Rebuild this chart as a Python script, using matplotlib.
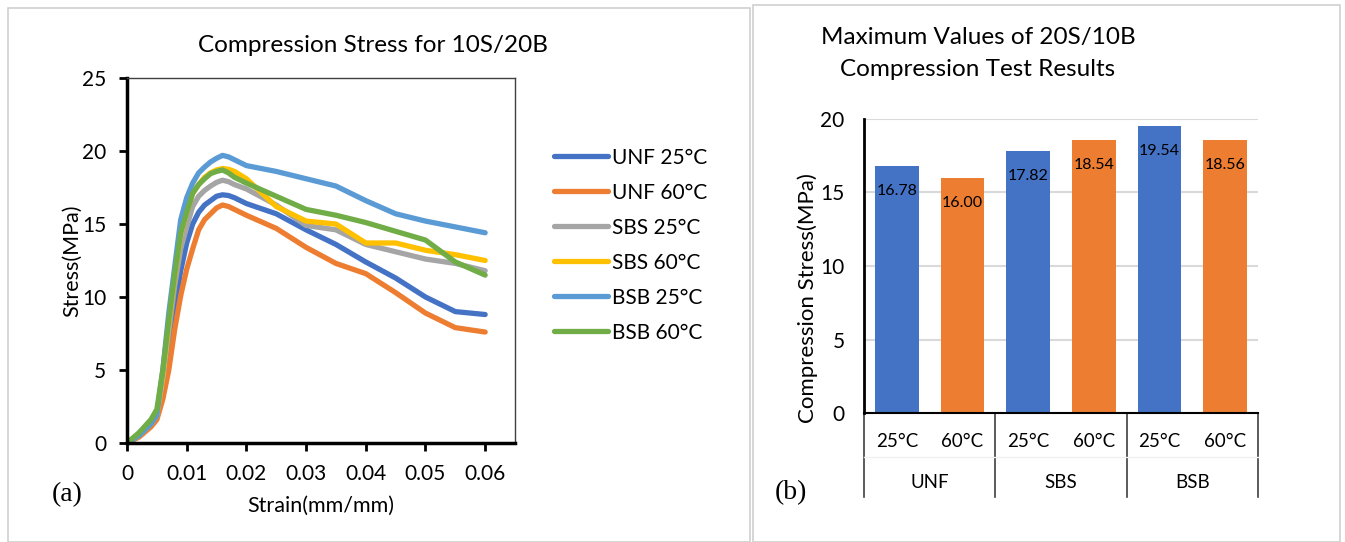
import numpy as np
import matplotlib
matplotlib.use('Agg')
import matplotlib.pyplot as plt
from matplotlib.patches import Rectangle
from matplotlib.lines import Line2D

plt.rcParams['font.family'] = ['Lato', 'DejaVu Sans']

# ---- left panel: stress-strain curves
strain = [0, 0.002, 0.004, 0.005, 0.006, 0.007, 0.008, 0.009, 0.010, 0.011,
          0.012, 0.013, 0.014, 0.015, 0.016, 0.017, 0.018, 0.020, 0.025, 0.030,
          0.035, 0.040, 0.045, 0.050, 0.055, 0.060]
unf_25 = [0, 0.5, 1.3, 1.9, 3.8, 6.6, 9.3, 11.8, 13.7, 15.0, 15.8, 16.3, 16.6,
          16.9, 17.0, 16.95, 16.8, 16.4, 15.7, 14.6, 13.6, 12.4, 11.3, 10.0, 9.0, 8.8]
unf_60 = [0, 0.4, 1.1, 1.6, 3.0, 5.0, 7.8, 10.1, 11.9, 13.3, 14.6, 15.3, 15.7,
          16.1, 16.3, 16.2, 16.0, 15.6, 14.7, 13.4, 12.3, 11.6, 10.3, 8.9, 7.9, 7.6]
sbs_25 = [0, 0.6, 1.4, 2.0, 4.4, 7.6, 10.8, 13.3, 14.8, 16.2, 16.9, 17.3, 17.6,
          17.85, 18.0, 17.9, 17.7, 17.4, 16.3, 14.9, 14.6, 13.6, 13.1, 12.6, 12.3, 11.8]
sbs_60 = [0, 0.5, 1.3, 1.9, 4.6, 8.2, 11.5, 14.3, 15.8, 17.1, 17.7, 18.2, 18.5,
          18.7, 18.8, 18.75, 18.6, 18.1, 16.2, 15.2, 15.0, 13.7, 13.7, 13.2, 12.9, 12.5]
bsb_25 = [0, 0.5, 1.3, 1.9, 5.0, 8.9, 12.1, 15.3, 16.8, 17.8, 18.5, 18.9, 19.25,
          19.5, 19.7, 19.6, 19.4, 19.0, 18.6, 18.1, 17.6, 16.6, 15.7, 15.2, 14.8, 14.4]
bsb_60 = [0, 0.7, 1.6, 2.3, 5.0, 8.4, 11.6, 14.4, 15.8, 17.1, 17.7, 18.1, 18.45,
          18.6, 18.7, 18.5, 18.2, 17.8, 16.9, 16.0, 15.6, 15.1, 14.5, 13.9, 12.4, 11.5]
curve_labels = ['UNF 25°C', 'UNF 60°C', 'SBS 25°C', 'SBS 60°C', 'BSB 25°C', 'BSB 60°C']
curve_colors = ['#4472C4', '#ED7D31', '#A5A5A5', '#FFC000', '#5B9BD5', '#70AD47']

# ---- right panel: maximum values
temps = ['25°C', '60°C', '25°C', '60°C', '25°C', '60°C']
groups = ['UNF', 'SBS', 'BSB']
max_stress = [16.78, 16.00, 17.82, 18.54, 19.54, 18.56]
bar_colors = ['#4472C4', '#ED7D31'] * 3

W, H = 1345, 542
fig = plt.figure(figsize=(W / 100, H / 100), dpi=100)

# panel frames
fig.patches.append(Rectangle((8 / W, 0), 742 / W, 1 - 8 / H, transform=fig.transFigure,
                             fill=False, ec='#d0d0d0', lw=1.2))
fig.patches.append(Rectangle((753 / W, 0), 587 / W, 1 - 5 / H, transform=fig.transFigure,
                             fill=False, ec='#d0d0d0', lw=1.2))

# ---------------- left: curves
ax = fig.add_axes([127 / W, 1 - 443 / H, 388 / W, 365 / H])
for ys, lab, c in zip([unf_25, unf_60, sbs_25, sbs_60, bsb_25, bsb_60], curve_labels, curve_colors):
    ax.plot(strain, ys, color=c, lw=3.8, label=lab, solid_capstyle='round',
            solid_joinstyle='round')
ax.set_xlim(0, 0.065)
ax.set_ylim(0, 25)
ax.set_xticks([0, 0.01, 0.02, 0.03, 0.04, 0.05, 0.06])
ax.set_xticklabels(['0', '0.01', '0.02', '0.03', '0.04', '0.05', '0.06'])
ax.set_yticks([0, 5, 10, 15, 20, 25])
ax.tick_params(direction='out', length=6, width=2, labelsize=15, pad=9)
for s in ['left', 'bottom']:
    ax.spines[s].set_linewidth(2.5)
for s in ['top', 'right']:
    ax.spines[s].set_color('#404040')
    ax.spines[s].set_linewidth(1)
ax.set_xlabel('Strain(mm/mm)', fontsize=15.5, labelpad=9)
ax.set_ylabel('Stress(MPa)', fontsize=15.5, labelpad=0)
fig.text(373 / W, 1 - 45 / H, 'Compression Stress for 10S/20B', fontsize=17.5,
         ha='center', va='center')
fig.legend(loc='upper left', bbox_to_anchor=(535 / W, 1 - 129 / H), frameon=False,
           fontsize=15, handlelength=2.6, handletextpad=0.2, labelspacing=0.72)
fig.text(52 / W, 1 - 495 / H, '(a)', fontsize=20, family='Liberation Serif',
         ha='left', va='center')

# ---------------- right: bars
bx = fig.add_axes([864 / W, 1 - 413 / H, 394 / W, 294 / H])
pos = np.arange(len(max_stress))
bx.bar(pos, max_stress, width=0.67, color=bar_colors, zorder=2)
for p, v in zip(pos, max_stress):
    bx.text(p, v - 1.7, f'{v:.2f}', ha='center', va='center', fontsize=11.5)
bx.set_xlim(-0.5, 5.5)
bx.set_ylim(0, 20)
bx.set_yticks([0, 5, 10, 15, 20])
bx.yaxis.grid(True, color='#d9d9d9', lw=1.5, zorder=0)
bx.tick_params(axis='y', length=0, labelsize=15, pad=14)
bx.set_xticks([])
for s in ['top', 'right']:
    bx.spines[s].set_visible(False)
bx.spines['left'].set_linewidth(2)
bx.spines['bottom'].set_linewidth(1.5)
bx.set_ylabel('Compression Stress(MPa)', fontsize=16)
bx.yaxis.set_label_coords(-0.118, 0.39)

# two-level category axis
for p, t in zip(pos, temps):
    bx.text(p, -0.097, t, transform=bx.get_xaxis_transform(), ha='center',
            va='center', fontsize=13.5)
for i, g in enumerate(groups):
    bx.text(2 * i + 0.5, -0.237, g, transform=bx.get_xaxis_transform(), ha='center',
            va='center', fontsize=13.5)
for xb in [-0.5, 1.5, 3.5, 5.5]:
    bx.add_line(Line2D([xb, xb], [0, -0.285], transform=bx.get_xaxis_transform(),
                       color='#404040', lw=1.2, clip_on=False))
bx.add_line(Line2D([-0.5, 5.5], [-0.15, -0.15], transform=bx.get_xaxis_transform(),
                   color='#f0f0f0', lw=1, clip_on=False))

fig.text(978 / W, 1 - 38 / H, 'Maximum Values of 20S/10B', fontsize=17.5,
         ha='center', va='center')
fig.text(978 / W, 1 - 70 / H, 'Compression Test Results', fontsize=17.5,
         ha='center', va='center')
fig.text(775 / W, 1 - 493 / H, '(b)', fontsize=20, family='Liberation Serif',
         ha='left', va='center')

fig.savefig('out.png', dpi=100)
